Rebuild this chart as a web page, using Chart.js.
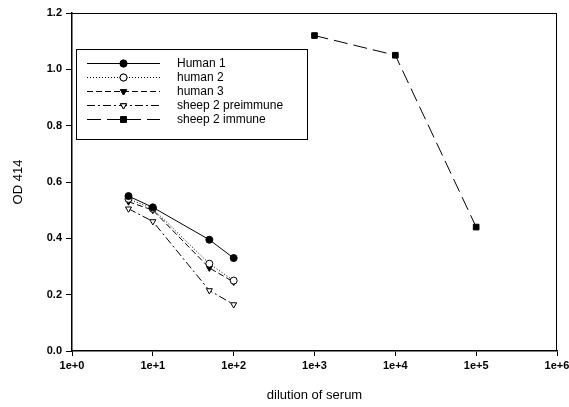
<!DOCTYPE html>
<html>
<head>
<meta charset="utf-8">
<script src="https://cdn.jsdelivr.net/npm/chart.js@4/dist/chart.umd.min.js"></script>
<style>
  body { margin: 0; background: #fff; }
  #wrap { width: 569px; height: 407px; }
</style>
</head>
<body>
<div id="wrap"><canvas id="chart" width="569" height="407"></canvas></div>
<script>
// dilution values
var dilHuman = [5, 10, 50, 100];
var dilImmune = [1000, 10000, 100000];

// OD 414 readings
var human1 = [0.55, 0.51, 0.395, 0.33];
var human2 = [0.54, 0.505, 0.31, 0.25];
var human3 = [0.53, 0.50, 0.295, 0.245];
var sheepPre = [0.505, 0.46, 0.215, 0.165];
var sheepImmune = [1.12, 1.05, 0.44];

var xTicks = [1, 10, 100, 1000, 10000, 100000, 1000000];
var xTickLabels = ["1e+0", "1e+1", "1e+2", "1e+3", "1e+4", "1e+5", "1e+6"];
var yTicks = [0, 0.2, 0.4, 0.6, 0.8, 1.0, 1.2];

function pts(xs, ys) {
  return xs.map(function(x, i) { return { x: x, y: ys[i] }; });
}

var font = "Arial, 'Liberation Sans', sans-serif";

var datasets = [
  { label: "Human 1", data: pts(dilHuman, human1), borderDash: [],
    pointStyle: "circle", pointBackgroundColor: "#000", rotation: 0 },
  { label: "human 2", data: pts(dilHuman, human2), borderDash: [1, 2],
    pointStyle: "circle", pointBackgroundColor: "#fff", rotation: 0 },
  { label: "human 3", data: pts(dilHuman, human3), borderDash: [6, 3],
    pointStyle: "triangle", pointBackgroundColor: "#000", rotation: 180 },
  { label: "sheep 2 preimmune", data: pts(dilHuman, sheepPre), borderDash: [8, 3, 2, 3],
    pointStyle: "triangle", pointBackgroundColor: "#fff", rotation: 180 },
  { label: "sheep 2 immune", data: pts(dilImmune, sheepImmune), borderDash: [14, 6],
    pointStyle: "rect", pointBackgroundColor: "#000", rotation: 0 }
];
datasets.forEach(function(d) {
  d.borderColor = "#000";
  d.borderWidth = 1;
  d.pointBorderColor = "#000";
  d.pointBorderWidth = 1;
  d.pointRadius = d.pointStyle === "rect" ? 4 : 3.5;
  d.fill = false;
  d.tension = 0;
});

// frame + boxed legend
var framePlugin = {
  id: "frame",
  afterDraw: function(chart) {
    var ctx = chart.ctx;
    var a = chart.chartArea;
    ctx.save();
    ctx.strokeStyle = "#000";
    ctx.lineWidth = 1;
    ctx.beginPath();
    ctx.moveTo(a.left, a.top + 0.5);
    ctx.lineTo(a.right, a.top + 0.5);
    ctx.moveTo(a.right - 0.5, a.top);
    ctx.lineTo(a.right - 0.5, a.bottom);
    ctx.stroke();

    // legend
    var bx = 76.5, by = 49.5, bw = 231, bh = 90;
    ctx.strokeRect(bx, by, bw, bh);
    ctx.font = "12px " + font;
    ctx.textBaseline = "middle";
    ctx.fillStyle = "#000";
    chart.data.datasets.forEach(function(d, i) {
      var y = 63.5 + i * 14;
      ctx.setLineDash(d.borderDash);
      ctx.beginPath();
      ctx.moveTo(87, y);
      ctx.lineTo(160, y);
      ctx.stroke();
      ctx.setLineDash([]);
      Chart.helpers.drawPoint(ctx, {
        pointStyle: d.pointStyle, rotation: d.rotation, radius: d.pointRadius, borderWidth: 1
      }, 123.5, y);
      ctx.fillStyle = d.pointBackgroundColor;
      ctx.fill();
      ctx.stroke();
      ctx.fillStyle = "#000";
      ctx.fillText(d.label, 177, y);
    });
    ctx.restore();
  }
};

new Chart(document.getElementById("chart"), {
  type: "line",
  data: { datasets: datasets },
  options: {
    responsive: false,
    animation: false,
    layout: { padding: { top: 13, right: 12, left: 7, bottom: 0 } },
    plugins: { legend: { display: false }, tooltip: { enabled: false } },
    scales: {
      x: {
        type: "logarithmic",
        min: 1,
        max: 1000000,
        afterBuildTicks: function(scale) {
          scale.ticks = xTicks.map(function(v) { return { value: v }; });
        },
        afterFit: function(scale) {
          scale.height = 56;
          scale.paddingRight = 0;
        },
        ticks: {
          color: "#000",
          font: { family: font, size: 11, weight: "bold" },
          maxRotation: 0,
          autoSkip: false,
          padding: 3,
          callback: function(v) { return xTickLabels[xTicks.indexOf(v)]; }
        },
        grid: { drawOnChartArea: false, color: "#000", tickLength: 5 },
        border: { color: "#000", width: 1.5 },
        title: { display: true, text: "dilution of serum", color: "#000",
          font: { family: font, size: 13 }, padding: { top: 8 } }
      },
      y: {
        min: 0,
        max: 1.2,
        afterBuildTicks: function(scale) {
          scale.ticks = yTicks.map(function(v) { return { value: v }; });
        },
        afterFit: function(scale) { scale.width = 65; },
        ticks: {
          color: "#000",
          font: { family: font, size: 11, weight: "bold" },
          padding: 4,
          callback: function(v) { return v.toFixed(1); }
        },
        grid: { drawOnChartArea: false, color: "#000", tickLength: 6 },
        border: { color: "#000", width: 1.5 },
        title: { display: true, text: "OD 414", color: "#000",
          font: { family: font, size: 13 }, padding: { bottom: 6 } }
      }
    }
  },
  plugins: [framePlugin]
});
</script>
</body>
</html>
